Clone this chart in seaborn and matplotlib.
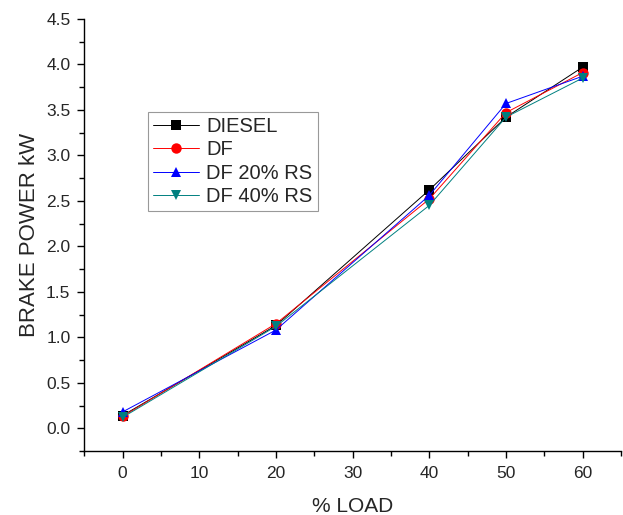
import pandas as pd
import numpy as np
import matplotlib.pyplot as plt
import seaborn as sns
from matplotlib.ticker import MultipleLocator

# Data
load = [0, 20, 40, 50, 60]
diesel = [0.14, 1.13, 2.62, 3.42, 3.97]
df_fuel = [0.13, 1.15, 2.52, 3.47, 3.91]
df_20rs = [0.18, 1.08, 2.56, 3.57, 3.87]
df_40rs = [0.12, 1.12, 2.45, 3.42, 3.85]

series = ["DIESEL", "DF", "DF 20% RS", "DF 40% RS"]
values = [diesel, df_fuel, df_20rs, df_40rs]

data = pd.DataFrame({
    "load": load * len(series),
    "power": [v for vals in values for v in vals],
    "fuel": [s for s in series for _ in load],
})

sns.set_style("ticks")
plt.rcParams["font.family"] = ["Liberation Sans", "DejaVu Sans"]

palette = {"DIESEL": "black", "DF": "red", "DF 20% RS": "blue", "DF 40% RS": "#008080"}
markers = {"DIESEL": "s", "DF": "o", "DF 20% RS": "^", "DF 40% RS": "v"}

fig = plt.figure(figsize=(6.23, 5.15), dpi=100)
ax = fig.add_axes([0.1353, 0.1243, 0.8615, 0.839])

sns.lineplot(data=data, x="load", y="power", hue="fuel", style="fuel",
             palette=palette, markers=markers, dashes=False, linewidth=0.7,
             markersize=7.5, markeredgewidth=0, ax=ax, sort=False)

ax.set_xlim(-5, 65)
ax.set_ylim(-0.25, 4.5)
ax.xaxis.set_major_locator(MultipleLocator(10))
ax.xaxis.set_minor_locator(MultipleLocator(5))
ax.yaxis.set_major_locator(MultipleLocator(0.5))
ax.yaxis.set_minor_locator(MultipleLocator(0.25))
ax.yaxis.set_major_formatter(plt.FormatStrFormatter("%.1f"))
ax.tick_params(which="major", length=5, width=1, labelsize=12.5, color="black")
ax.tick_params(which="minor", length=3.5, width=1, color="black")
ax.tick_params(axis="x", pad=6)
ax.tick_params(axis="y", pad=5)
sns.despine(ax=ax)
for sp in ["left", "bottom"]:
    ax.spines[sp].set_linewidth(1)
    ax.spines[sp].set_color("black")

ax.set_xlabel("% LOAD", fontsize=15, labelpad=11)
ax.set_ylabel("BRAKE POWER kW", fontsize=16, labelpad=4)

handles, labels = ax.get_legend_handles_labels()
leg = ax.legend(handles, labels, loc="upper left", bbox_to_anchor=(0.1187, 0.785),
                fontsize=14.5, frameon=True, fancybox=False, handlelength=2.3,
                handletextpad=0.35, labelspacing=0.22, borderpad=0.25,
                borderaxespad=0)
leg.get_frame().set_edgecolor("gray")
leg.get_frame().set_linewidth(0.8)

fig.savefig("out.png", dpi=100)
